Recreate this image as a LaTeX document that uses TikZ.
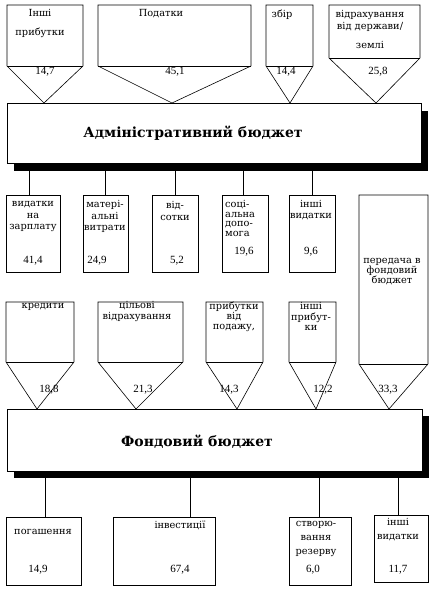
\documentclass[tikz,border=0pt]{standalone}
\usepackage{fontspec}
\setmainfont{DejaVu Serif}
\newfontfamily\numfont{Liberation Serif}
\begin{document}
\begin{tikzpicture}[x=1pt,y=-1pt,
  ln/.style={line width=0.6pt},
  lbl/.style={font=\fontsize{9.8}{11.5}\selectfont, align=center, inner sep=0},
  num/.style={font=\numfont\fontsize{11}{13}\selectfont, inner sep=0},
  titletext/.style={font=\bfseries\fontsize{14}{16}\selectfont, inner sep=0},
  boxnode/.style={draw, ln, fill=white, inner sep=0},
  shadownode/.style={fill=black, inner sep=0}]
\useasboundingbox (0,0) rectangle (432,597);
\fill[white] (0,0) rectangle (432,597);
\newcommand\myfunnel[7]{%
  \draw[ln] (#2,#5) -- (#2,#4) -- (#3,#4) -- (#3,#5) -- (#6,#7) -- cycle;
  \draw[ln] (#2,#5) -- (#3,#5);
  \coordinate (#1) at (#6,#7);}
% top funnels
\myfunnel{f1}{7}{83}{5}{66}{44}{103}
\myfunnel{f2}{98}{251}{5}{66}{172}{103}
\myfunnel{f3}{266}{313}{5}{66}{290}{103}
\myfunnel{f4}{329}{420}{5}{58}{376}{103}
\node[lbl, font=\fontsize{9.8}{19}\selectfont] (tf1) at (40,23.5) {Інші\\прибутки};
\node[lbl] (tf2) at (161,14) {Податки};
\node[lbl] (tf3) at (282,15) {збір};
\node[lbl] (tf4) at (370,29.5) {відрахування\\від держави/\\[8pt]землі};
\node[num] (nf1) at (45,72) {14,7};
\node[num] (nf2) at (175,72) {45,1};
\node[num] (nf3) at (286,72) {14,4};
\node[num] (nf4) at (378,72) {25,8};
% administrative budget
\node[shadownode, minimum width=414, minimum height=60] (adminsh) at (221,141) {};
\node[boxnode, minimum width=414, minimum height=60] (admin) at (214,133) {};
\node[titletext] (admintxt) at (193,133) {Адміністративний бюджет};
% middle boxes
\node[boxnode, minimum width=54, minimum height=77] (m1) at (33,233.5) {};
\node[boxnode, minimum width=45, minimum height=77] (m2) at (105.5,233.5) {};
\node[boxnode, minimum width=46, minimum height=77] (m3) at (175,233.5) {};
\node[boxnode, minimum width=46, minimum height=77] (m4) at (245,233.5) {};
\node[boxnode, minimum width=46, minimum height=77] (m5) at (312,233.5) {};
\draw[ln] ([xshift=-4pt]m1.north) -- ([xshift=-4pt]m1.north |- adminsh.south);
\draw[ln] ([xshift=-0.5pt]m2.north) -- ([xshift=-0.5pt]m2.north |- adminsh.south);
\draw[ln] (m3.north) -- (m3.north |- adminsh.south);
\draw[ln] ([xshift=-2pt]m4.north) -- ([xshift=-2pt]m4.north |- adminsh.south);
\draw[ln] (m5.north) -- (m5.north |- adminsh.south);
\node[lbl] (tm1) at (33,216.5) {видатки\\на\\зарплату};
\node[lbl] (tm2) at (105,216.5) {матері-\\альні\\витрати};
\node[lbl] (tm3) at (175,211) {від-\\сотки};
\node[lbl, align=left, anchor=west, font=\fontsize{9.8}{9.5}\selectfont] (tm4) at (225,218.5) {соці-\\альна\\допо-\\мога};
\node[lbl] (tm5) at (311,210) {інші\\видатки};
\node[num] (nm1) at (33,261) {41,4};
\node[num] (nm2) at (97,261) {24,9};
\node[num] (nm3) at (177,261) {5,2};
\node[num] (nm4) at (244,252) {19,6};
\node[num] (nm5) at (311,252) {9,6};
% row 3 funnels
\myfunnel{g1}{6}{74}{302}{362}{37}{409}
\myfunnel{g2}{98}{183}{302}{362}{136}{409}
\myfunnel{g3}{206}{263}{302}{362}{237}{409}
\myfunnel{g4}{289}{336}{302}{362}{316}{409}
\myfunnel{g5}{359}{428}{195}{364}{389}{409}
\node[lbl] (tg1) at (43,307) {кредити};
\node[lbl] (tg2) at (137,311.5) {цільові\\відрахування};
\node[lbl, font=\fontsize{9.8}{10}\selectfont] (tg3) at (234,317) {прибутки\\від\\подажу,};
\node[lbl, font=\fontsize{9.8}{10.5}\selectfont] (tg4) at (311,316.5) {інші\\прибут-\\ки};
\node[lbl, font=\fontsize{9.8}{10}\selectfont] (tg5) at (392,272) {передача в\\фондовий\\бюджет};
\node[num] (ng1) at (49,390) {18,8};
\node[num] (ng2) at (143,390) {21,3};
\node[num] (ng3) at (229,390) {14,3};
\node[num] (ng4) at (323,390) {12,2};
\node[num] (ng5) at (388,390) {33,3};
% fund budget
\node[shadownode, minimum width=415, minimum height=62] (fondsh) at (221,446.5) {};
\node[boxnode, minimum width=415, minimum height=62] (fond) at (214.5,440) {};
\node[titletext] (fondtxt) at (197,442) {Фондовий бюджет};
% bottom boxes
\node[boxnode, minimum width=75, minimum height=68] (b1) at (43.5,551) {};
\node[boxnode, minimum width=102, minimum height=68] (b2) at (164,551) {};
\node[boxnode, minimum width=62, minimum height=68] (b3) at (320,551) {};
\node[boxnode, minimum width=54, minimum height=67] (b4) at (401,548.5) {};
\draw[ln] ([xshift=1.5pt]b1.north) -- ([xshift=1.5pt]b1.north |- fondsh.south);
\draw[ln] ([xshift=26pt]b2.north) -- ([xshift=26pt]b2.north |- fondsh.south);
\draw[ln] ([xshift=-1pt]b3.north) -- ([xshift=-1pt]b3.north |- fondsh.south);
\draw[ln] ([xshift=-3pt]b4.north) -- ([xshift=-3pt]b4.north |- fondsh.south);
\node[lbl] (tb1) at (43,532) {погашення};
\node[lbl] (tb2) at (180,525) {інвестиції};
\node[lbl, font=\fontsize{9.8}{14}\selectfont] (tb3) at (316,539) {створю-\\вання\\резерву};
\node[lbl, font=\fontsize{9.8}{14}\selectfont] (tb4) at (398,530) {інші\\видатки};
\node[num] (nb1) at (38,570) {14,9};
\node[num] (nb2) at (180,570) {67,4};
\node[num] (nb3) at (313,570) {6,0};
\node[num] (nb4) at (398,570) {11,7};
\end{tikzpicture}
\end{document}
